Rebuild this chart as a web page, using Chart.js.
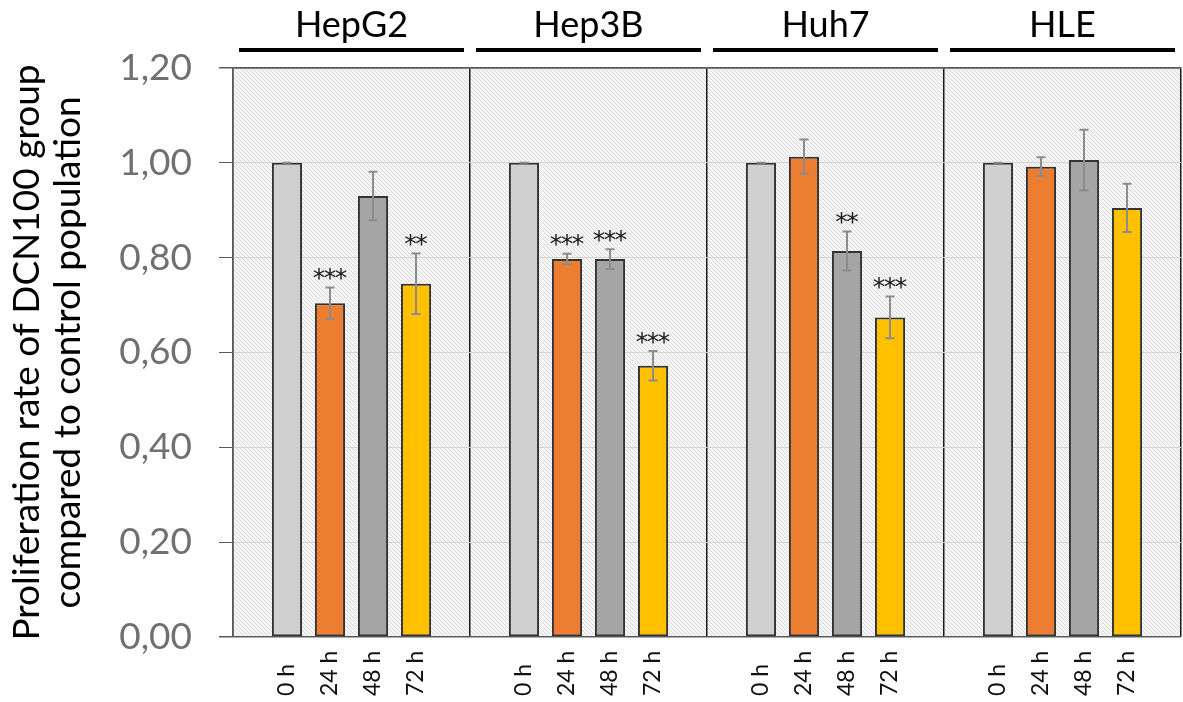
<!DOCTYPE html>
<html>
<head>
<meta charset="utf-8">
<script src="https://cdn.jsdelivr.net/npm/chart.js@4.4.1/dist/chart.umd.min.js"></script>
<style>
  html, body { margin: 0; padding: 0; background: #fff; }
</style>
</head>
<body>
<canvas id="prolifChart" width="1183" height="702"></canvas>
<script>
let cellLines = ["HepG2", "Hep3B", "Huh7", "HLE"];
let timePoints = ["0 h", "24 h", "48 h", "72 h"];

// proliferation rate relative to control, per cell line
let rate0h = [1.00, 1.00, 1.00, 1.00];
let rate24h = [0.704, 0.797, 1.013, 0.992];
let rate48h = [0.930, 0.797, 0.814, 1.006];
let rate72h = [0.745, 0.572, 0.674, 0.905];

// error bars (+/-)
let err0h = [0, 0, 0, 0];
let err24h = [0.033, 0.011, 0.036, 0.020];
let err48h = [0.051, 0.021, 0.041, 0.064];
let err72h = [0.064, 0.031, 0.044, 0.051];

// significance marks
let stars0h = ["", "", "", ""];
let stars24h = ["***", "***", "", ""];
let stars48h = ["", "***", "**", ""];
let stars72h = ["**", "***", "***", ""];

let yTicks = [0, 0.2, 0.4, 0.6, 0.8, 1.0, 1.2];

let barColors = ['#d0d0d0', '#ed7d31', '#a5a5a5', '#ffc000'];
let rates = [rate0h, rate24h, rate48h, rate72h];
let errors = [err0h, err24h, err48h, err72h];
let stars = [stars0h, stars24h, stars48h, stars72h];

function makeHatch(ctx) {
  let c = document.createElement('canvas');
  c.width = 4; c.height = 4;
  let g = c.getContext('2d');
  g.fillStyle = '#f5f5f5';
  g.fillRect(0, 0, 4, 4);
  g.strokeStyle = '#dcdcdc';
  g.lineWidth = 1;
  g.beginPath();
  g.moveTo(-1, -1); g.lineTo(5, 5);
  g.moveTo(-1, 3); g.lineTo(1, 5);
  g.moveTo(3, -1); g.lineTo(5, 1);
  g.stroke();
  return ctx.createPattern(c, 'repeat');
}

const hatchBackground = {
  id: 'hatchBackground',
  beforeDraw(chart) {
    let a = chart.chartArea;
    let ctx = chart.ctx;
    ctx.save();
    ctx.fillStyle = makeHatch(ctx);
    ctx.fillRect(a.left, a.top, a.right - a.left, a.bottom - a.top);
    ctx.restore();
  }
};

const errorBars = {
  id: 'errorBars',
  afterDatasetsDraw(chart) {
    let ctx = chart.ctx;
    let yScale = chart.scales.y;
    ctx.save();
    chart.data.datasets.forEach((ds, i) => {
      let meta = chart.getDatasetMeta(i);
      meta.data.forEach((bar, j) => {
        let v = rates[i][j], e = errors[i][j];
        let top = yScale.getPixelForValue(v + e);
        let bot = yScale.getPixelForValue(v - e);
        ctx.strokeStyle = '#8c8c8c';
        ctx.lineWidth = 2;
        ctx.beginPath();
        ctx.moveTo(bar.x, top); ctx.lineTo(bar.x, bot);
        ctx.moveTo(bar.x - 4.5, top); ctx.lineTo(bar.x + 4.5, top);
        ctx.moveTo(bar.x - 4.5, bot); ctx.lineTo(bar.x + 4.5, bot);
        ctx.stroke();
        let s = stars[i][j];
        if (s) {
          ctx.fillStyle = '#1a1a1a';
          ctx.font = '25px "DejaVu Sans"';
          ctx.textAlign = 'center';
          ctx.textBaseline = 'middle';
          let step = 11;
          for (let k = 0; k < s.length; k++) {
            let sx = bar.x + (k - (s.length - 1) / 2) * step;
            ctx.fillText('*', sx, top - 8);
          }
        }
      });
    });
    ctx.restore();
  }
};

const extraLabels = {
  id: 'extraLabels',
  afterDraw(chart) {
    let ctx = chart.ctx;
    let x = chart.scales.x;
    ctx.save();
    // black bars under the cell line names
    let half = (x.getPixelForValue(1) - x.getPixelForValue(0)) / 2;
    ctx.strokeStyle = '#000';
    ctx.lineWidth = 4;
    cellLines.forEach((c, j) => {
      let cx = x.getPixelForValue(j);
      ctx.beginPath();
      ctx.moveTo(cx - half + 6, 50);
      ctx.lineTo(cx + half - 6, 50);
      ctx.stroke();
    });
    // time point labels under each bar
    ctx.fillStyle = '#111';
    ctx.font = '23px Lato';
    ctx.textAlign = 'left';
    ctx.textBaseline = 'middle';
    chart.data.datasets.forEach((ds, i) => {
      chart.getDatasetMeta(i).data.forEach(bar => {
        ctx.save();
        ctx.translate(bar.x, 696);
        ctx.rotate(-Math.PI / 2);
        ctx.fillText(ds.label, 0, 0);
        ctx.restore();
      });
    });
    ctx.restore();
  }
};

let ctx = document.getElementById('prolifChart').getContext('2d');
let prolifChart = new Chart(ctx, {
  type: 'bar',
  data: {
    labels: cellLines,
    datasets: timePoints.map((t, i) => ({
      label: t,
      data: rates[i],
      backgroundColor: barColors[i],
      borderColor: '#333333',
      borderWidth: 2,
      borderSkipped: false,
      categoryPercentage: 0.726,
      barPercentage: 0.70
    }))
  },
  options: {
    responsive: false,
    animation: false,
    devicePixelRatio: 1,
    layout: { padding: { left: 0, right: 2, top: 0, bottom: 65 } },
    plugins: {
      legend: { display: false },
      tooltip: { enabled: false }
    },
    scales: {
      x: {
        position: 'top',
        ticks: {
          color: '#000',
          font: { family: 'Lato', size: 36 },
          padding: 21,
          maxRotation: 0
        },
        grid: { offset: true, color: '#1a1a1a', lineWidth: 1.5, drawTicks: false },
        border: { color: '#5a5a5a', width: 1.5 },
        afterFit: axis => { axis.height = 68; }
      },
      y: {
        min: 0,
        max: 1.2,
        afterBuildTicks: axis => { axis.ticks = yTicks.map(v => ({ value: v })); },
        ticks: {
          callback: v => v.toFixed(2).replace('.', ','),
          color: '#707070',
          font: { family: 'Lato', size: 37 },
          padding: 27
        },
        grid: {
          color: c => (c.tick.value === 0 || c.tick.value === 1.2) ? '#5a5a5a' : '#d4d4d4',
          tickColor: '#5a5a5a',
          tickLength: 14,
          lineWidth: c => (c.tick.value === 0 || c.tick.value === 1.2) ? 1.5 : 1
        },
        border: { color: '#5a5a5a', width: 1.5 },
        title: {
          display: true,
          text: ['Proliferation rate of DCN100 group', 'compared to control population'],
          color: '#000',
          font: { family: 'Lato', size: 37, lineHeight: '41px' },
          padding: { top: 7, bottom: 0 }
        },
        afterFit: axis => { axis.width = 233; }
      }
    }
  },
  plugins: [hatchBackground, errorBars, extraLabels]
});
</script>
</body>
</html>
